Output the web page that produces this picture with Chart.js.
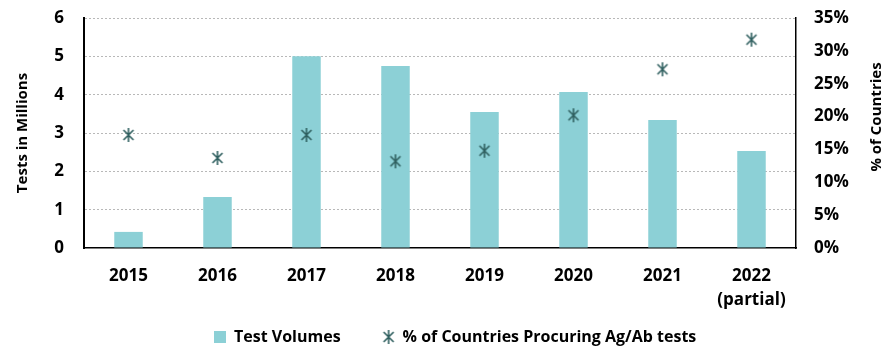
<!DOCTYPE html>
<html>
<head>
<meta charset="utf-8">
<script src="https://cdn.jsdelivr.net/npm/chart.js@4"></script>
<style>
  html, body { margin: 0; padding: 0; background: #fff; }
  #wrap { width: 884px; height: 346px; overflow: hidden; }
</style>
</head>
<body>
<div id="wrap"><canvas id="chart" width="884" height="386"></canvas></div>
<script>
const years = ['2015', '2016', '2017', '2018', '2019', '2020', '2021', ['2022', '(partial)']];
const testVolumes = [0.42, 1.33, 5.0, 4.75, 3.55, 4.07, 3.34, 2.53];
const pctCountries = [17.2, 13.7, 17.2, 13.2, 14.8, 20.2, 27.2, 31.7];

const FONT = "'Open Sans', 'Noto Sans', sans-serif";
const LEGEND_PAD = 42;
const LEGEND_FONT = 16;

// asterisk-like marker (x plus vertical bar)
const star = document.createElement('canvas');
star.width = 14; star.height = 16;
(function () {
  const c = star.getContext('2d');
  c.strokeStyle = '#2f5f5f';
  c.lineWidth = 1.6;
  c.beginPath();
  c.moveTo(2, 3); c.lineTo(12, 13);
  c.moveTo(12, 3); c.lineTo(2, 13);
  c.moveTo(7, 1); c.lineTo(7, 15);
  c.stroke();
})();

// legend placed like the original (starts at x=214, text centred near y=337)
const legendPlace = {
  id: 'legendPlace',
  afterLayout(chart) {
    const lg = chart.legend;
    const w = lg.right - lg.left, h = lg.bottom - lg.top;
    lg.left = 214 - LEGEND_PAD;
    lg.right = lg.left + w;
    lg.top = 337 - LEGEND_PAD - LEGEND_FONT / 2;
    lg.bottom = lg.top + h;
  }
};

const rightTitle = {
  id: 'rightTitle',
  afterDraw(chart) {
    const ctx = chart.ctx;
    const a = chart.chartArea;
    ctx.save();
    ctx.translate(877, (a.top + a.bottom) / 2 - 16);
    ctx.rotate(-Math.PI / 2);
    ctx.font = "bold 15px " + FONT;
    ctx.fillStyle = '#000';
    ctx.textAlign = 'center';
    ctx.textBaseline = 'middle';
    ctx.fillText('% of Countries', 0, 0);
    ctx.restore();
  }
};

const noVPad = (s) => { s.paddingTop = 0; s.paddingBottom = 0; };

new Chart(document.getElementById('chart'), {
  data: {
    labels: years,
    datasets: [
      {
        type: 'bar',
        label: 'Test Volumes',
        data: testVolumes,
        backgroundColor: '#8cd0d6',
        yAxisID: 'y',
        categoryPercentage: 1,
        barPercentage: 0.32,
        pointStyle: 'rect',
        order: 1
      },
      {
        type: 'line',
        label: '% of Countries Procuring Ag/Ab tests',
        data: pctCountries,
        yAxisID: 'y1',
        showLine: false,
        pointStyle: star,
        pointRadius: 7,
        order: 0
      }
    ]
  },
  options: {
    responsive: false,
    animation: false,
    layout: { padding: { top: 18, left: 14, right: 0, bottom: 0 } },
    plugins: {
      tooltip: { enabled: false },
      legend: {
        position: 'bottom',
        align: 'start',
        labels: {
          usePointStyle: true,
          boxWidth: 12,
          boxHeight: 12,
          padding: LEGEND_PAD,
          color: '#000',
          font: { family: FONT, size: LEGEND_FONT, weight: 'bold' },
          sort: (a, b) => a.datasetIndex - b.datasetIndex
        }
      }
    },
    scales: {
      x: {
        grid: { display: false, drawTicks: false },
        border: { display: true, color: '#000', width: 1.5 },
        ticks: {
          color: '#000',
          padding: 16,
          font: { family: FONT, size: 17, weight: 'bold', lineHeight: 1.4 }
        },
        afterFit(s) { s.height = 70; }
      },
      y: {
        position: 'left',
        min: 0,
        max: 6,
        ticks: {
          stepSize: 1,
          color: '#000',
          padding: 20,
          font: { family: FONT, size: 17, weight: 'bold' }
        },
        grid: {
          drawTicks: false,
          color: (c) => c.tick && c.tick.value === 0 ? 'rgba(0,0,0,0)' : '#b8b8b8'
        },
        border: { display: true, color: '#000', width: 2, dash: [2, 2] },
        title: {
          display: true,
          text: 'Tests in Millions',
          color: '#000',
          padding: 0,
          font: { family: FONT, size: 15, weight: 'bold' }
        },
        afterFit(s) { s.width = 70; noVPad(s); }
      },
      y1: {
        position: 'right',
        min: 0,
        max: 35,
        ticks: {
          stepSize: 5,
          color: '#000',
          padding: 18,
          font: { family: FONT, size: 17, weight: 'bold' },
          callback: (v) => v + '%'
        },
        grid: { display: false, drawTicks: false },
        border: { display: true, color: '#000', width: 1.5 },
        afterFit(s) { s.width = 88; noVPad(s); }
      }
    }
  },
  plugins: [legendPlace, rightTitle]
});
</script>
</body>
</html>
